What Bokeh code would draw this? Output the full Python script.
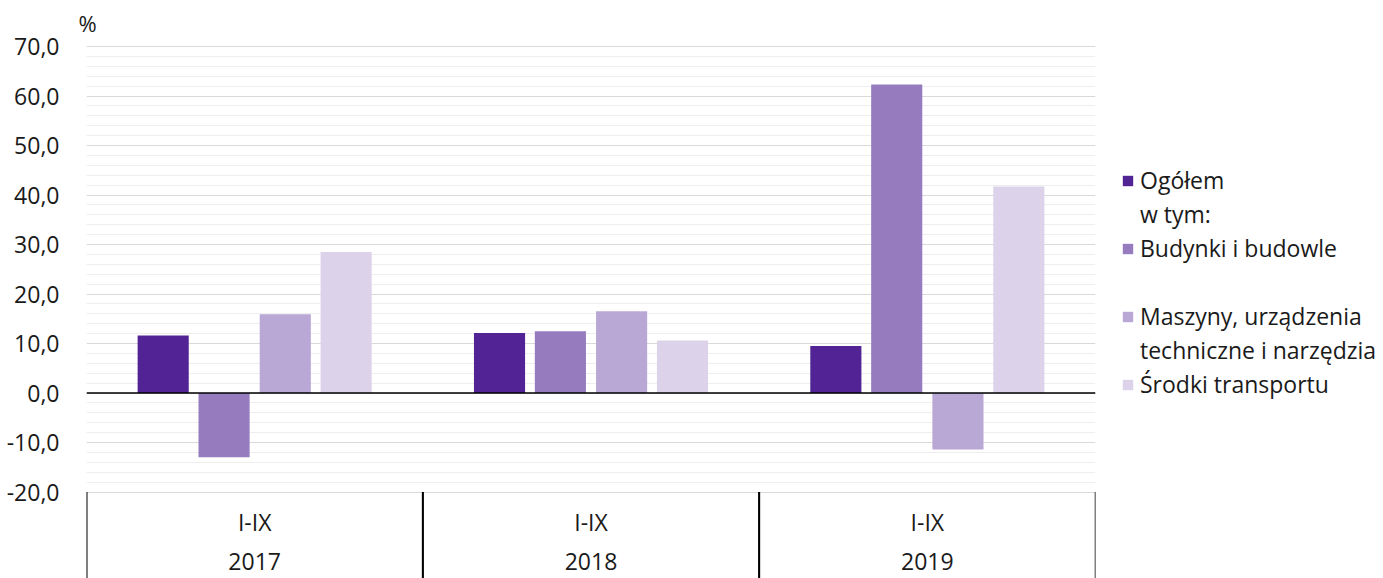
from bokeh.plotting import figure
from bokeh.models import (Range1d, FixedTicker, Span, Legend, LegendItem,
                          ColumnDataSource)
from bokeh.transform import dodge
from bokeh.core.properties import value
from bokeh.embed import file_html
from bokeh.resources import INLINE

# ---- data ----
years = ["2017", "2018", "2019"]
period = ["I-IX", "I-IX", "I-IX"]
series_labels = ["Ogółem", "Budynki i budowle", "Maszyny, urządzenia",
                 "Środki transportu"]
series_label_cont = "techniczne i narzędzia"
ogolem = [11.6, 12.1, 9.5]
budynki = [-13.0, 12.5, 62.3]
maszyny = [15.9, 16.5, -11.4]
srodki = [28.5, 10.6, 41.7]
y_ticks = [-20, -10, 0, 10, 20, 30, 40, 50, 60, 70]
y_tick_labels = ["-20,0", "-10,0", "0,0", "10,0", "20,0", "30,0", "40,0",
                 "50,0", "60,0", "70,0"]
unit_label = "%"
legend_sub = "w tym:"

colors = ["#522395", "#967cbf", "#b9a7d6", "#dcd3ea"]
FONT = "Open Sans"
FS = "23px"
TXT = "#1a1a1a"

src = ColumnDataSource(dict(year=years, period=period, ogolem=ogolem,
                            budynki=budynki, maszyny=maszyny, srodki=srodki))

TOP = 40
p = figure(x_range=years, y_range=Range1d(-37.47, 70 + (46 - TOP) / 4.95),
           frame_width=1009, frame_height=578 - TOP,
           output_backend="svg", toolbar_location=None,
           x_axis_location=None, min_border_left=86, min_border_top=TOP,
           min_border_bottom=0, min_border_right=0)
p.outline_line_color = None
p.background_fill_color = "white"
p.xgrid.visible = False

p.title.text = unit_label
p.title.align = "left"
p.title.offset = -8
p.title.standoff = 6
p.title.text_font = FONT
p.title.text_font_size = "22px"
p.title.text_font_style = "normal"
p.title.text_color = TXT

minor = [v for v in range(-20, 71, 2)]
p.yaxis.ticker = FixedTicker(ticks=y_ticks, minor_ticks=minor)
p.yaxis.major_label_overrides = {t: l for t, l in zip(y_ticks, y_tick_labels)}
p.yaxis.axis_line_color = None
p.yaxis.major_tick_line_color = None
p.yaxis.minor_tick_line_color = None
p.yaxis.major_tick_out = 0
p.yaxis.major_tick_in = 0
p.yaxis.major_label_standoff = 23
p.yaxis.major_label_text_font = FONT
p.yaxis.major_label_text_font_size = FS
p.yaxis.major_label_text_color = TXT
p.ygrid.grid_line_color = "#d9d9d9"
p.ygrid.grid_line_width = 1
p.ygrid.minor_grid_line_color = "#eeeeee"
p.ygrid.minor_grid_line_width = 1

offsets = [-0.272, -0.091, 0.091, 0.272]
fields = ["ogolem", "budynki", "maszyny", "srodki"]
renderers = []
for f, off, c in zip(fields, offsets, colors):
    r = p.vbar(x=dodge("year", off, range=p.x_range), top=f, bottom=0,
               width=0.152, source=src, fill_color=c, line_color=None)
    renderers.append(r)

p.add_layout(Span(location=0, dimension="width", line_color="black",
                  line_width=1.5))

# category separators and labels below the value area
y_low = p.y_range.start
p.segment(x0=dodge("year", -0.5, range=p.x_range), y0=-20,
          x1=dodge("year", -0.5, range=p.x_range), y1=y_low,
          source=src, line_color="black", line_width=2)
p.segment(x0=dodge("year", 0.5, range=p.x_range), y0=-20,
          x1=dodge("year", 0.5, range=p.x_range), y1=y_low,
          source=src, line_color="black", line_width=1.5)
p.text(x="year", y=-26.0, text="period", source=src, text_align="center",
       text_baseline="middle", text_font=value(FONT), text_font_size=FS,
       text_color=TXT)
p.text(x="year", y=-34.1, text="year", source=src, text_align="center",
       text_baseline="middle", text_font=value(FONT), text_font_size=FS,
       text_color=TXT)

dummy = p.vbar(x=[], top=[], width=0.1, fill_alpha=0, line_alpha=0)
items = [
    LegendItem(label=series_labels[0], renderers=[renderers[0]]),
    LegendItem(label=legend_sub, renderers=[dummy]),
    LegendItem(label=series_labels[1], renderers=[renderers[1]]),
    LegendItem(label="\u00a0", renderers=[dummy]),
    LegendItem(label=series_labels[2], renderers=[renderers[2]]),
    LegendItem(label=series_label_cont, renderers=[dummy]),
    LegendItem(label=series_labels[3], renderers=[renderers[3]]),
]
legend = Legend(items=items, location=(26, 178))
legend.border_line_color = None
legend.background_fill_alpha = 0
legend.label_text_font = FONT
legend.label_text_font_size = FS
legend.label_text_color = TXT
legend.glyph_width = 13
legend.glyph_height = 13
legend.label_standoff = 6
legend.label_height = 30
legend.spacing = 2
legend.padding = 0
legend.margin = 14
p.add_layout(legend, "right")

open("out.html", "w").write(file_html(p, INLINE))
